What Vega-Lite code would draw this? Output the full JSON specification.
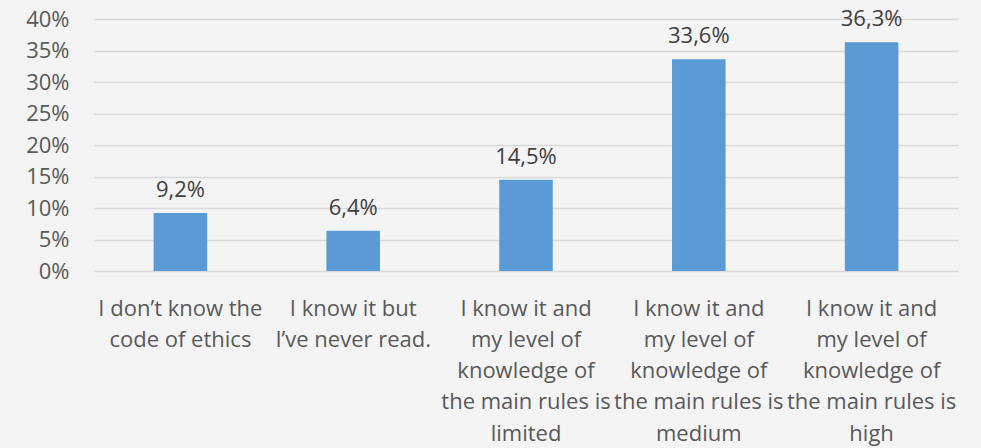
{
  "$schema": "https://vega.github.io/schema/vega-lite/v6.json",
  "width": 864,
  "height": 252,
  "autosize": "none",
  "padding": {"left": 94, "top": 19, "right": 23, "bottom": 177},
  "background": "#f4f4f4",
  "config": {
    "view": {"stroke": null},
    "font": "Open Sans",
    "locale": {"number": {"decimal": ",", "thousands": ".", "grouping": [3], "currency": ["", " €"]}}
  },
  "data": {
    "values": [
      {"category": "I don’t know the|code of ethics", "value": 0.092},
      {"category": "I know it but|I’ve never read.", "value": 0.064},
      {"category": "I know it and|my level of|knowledge of|the main rules is|limited", "value": 0.145},
      {"category": "I know it and|my level of|knowledge of|the main rules is|medium", "value": 0.336},
      {"category": "I know it and|my level of|knowledge of|the main rules is|high", "value": 0.363}
    ]
  },
  "encoding": {
    "x": {
      "field": "category",
      "type": "nominal",
      "sort": null,
      "scale": {"paddingInner": 0.69, "paddingOuter": 0.345},
      "axis": {
        "title": null,
        "labelAngle": 0,
        "domain": false,
        "ticks": false,
        "labelExpr": "split(datum.label, '|')",
        "labelFontSize": 22,
        "labelLineHeight": 31.25,
        "labelColor": "#595959",
        "labelBaseline": "top",
        "labelPadding": 27,
        "labelLimit": 0
      }
    },
    "y": {
      "field": "value",
      "type": "quantitative",
      "scale": {"domain": [0, 0.4], "nice": false},
      "axis": {
        "title": null,
        "format": ".0%",
        "values": [0, 0.05, 0.1, 0.15, 0.2, 0.25, 0.3, 0.35, 0.4],
        "domain": false,
        "ticks": false,
        "labelFontSize": 22,
        "labelColor": "#595959",
        "labelPadding": 25,
        "gridColor": "#d9d9d9",
        "gridWidth": 1.5
      }
    }
  },
  "layer": [
    {"mark": {"type": "bar", "color": "#5b9bd5"}},
    {
      "mark": {"type": "text", "dy": -16, "baseline": "alphabetic", "fontSize": 22, "color": "#404040"},
      "encoding": {"text": {"field": "value", "type": "quantitative", "format": ".1%"}}
    }
  ]
}
